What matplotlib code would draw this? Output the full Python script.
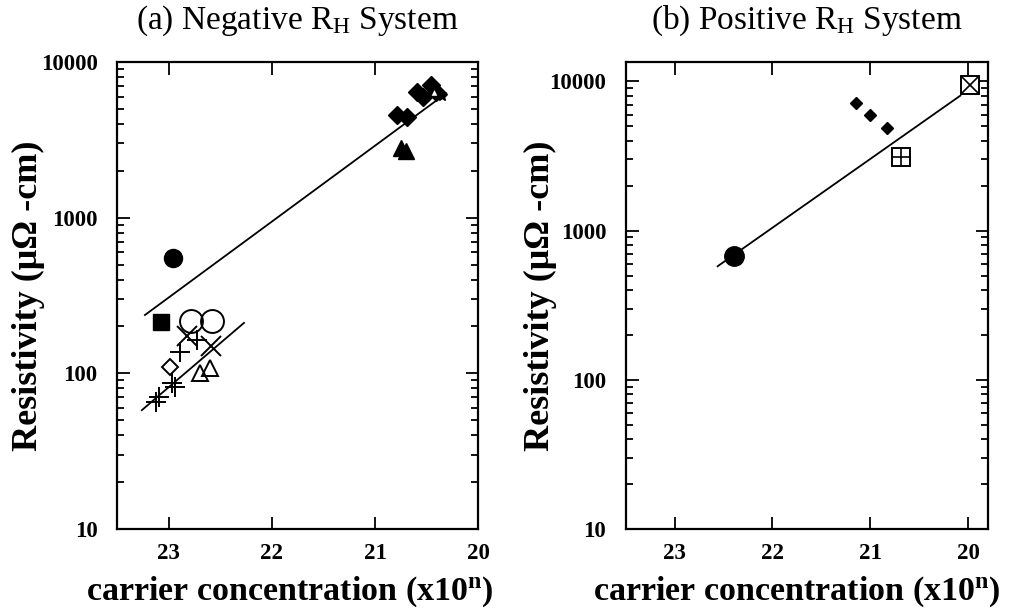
# resistivity vs carrier concentration, negative / positive Hall systems
import matplotlib
matplotlib.use('Agg')
import matplotlib.pyplot as plt
from matplotlib.ticker import FixedLocator, LogLocator, NullFormatter, FuncFormatter

plt.rcParams['font.family'] = ['Liberation Serif', 'DejaVu Serif']
plt.rcParams['mathtext.fontset'] = 'custom'
plt.rcParams['mathtext.rm'] = 'Liberation Serif'
plt.rcParams['mathtext.bf'] = 'Liberation Serif:bold'
plt.rcParams['mathtext.it'] = 'Liberation Serif:italic'

# ---- (a) negative R_H ----
a_dia_x = [20.59, 20.54, 20.46, 20.41, 20.79, 20.69]
a_dia_y = [6440, 5960, 7110, 6440, 4570, 4440]
a_tri_x = [20.75, 20.70]
a_tri_y = [2800, 2700]
a_small_tri_x = [20.43]
a_small_tri_y = [6440]
a_star_x = [20.35]
a_star_y = [6090]
a_fcirc_x = [22.96]
a_fcirc_y = [551]
a_fsq_x = [23.07]
a_fsq_y = [214]
a_ocirc_x = [22.78, 22.58]
a_ocirc_y = [216, 216]
a_odia_x = [22.99]
a_odia_y = [110]
a_cross_x = [22.82, 22.59]
a_cross_y = [174, 150]
a_plus_x = [22.89, 22.73, 23.12, 23.09, 22.97, 22.94]
a_plus_y = [137, 164, 65, 71, 87, 82]
a_otri_x = [22.70, 22.60]
a_otri_y = [100, 108]
a_fit1_x = [23.23, 20.31]
a_fit1_y = [237, 6300]
a_fit2_x = [23.26, 22.27]
a_fit2_y = [58, 211]

# ---- (b) positive R_H ----
b_fcirc_x = [22.39]
b_fcirc_y = [675]
b_dia_x = [21.15, 21.00, 20.83]
b_dia_y = [7210, 5990, 4890]
b_boxx_x = [19.98]
b_boxx_y = [9400]
b_boxp_x = [20.69]
b_boxp_y = [3100]
b_fit_x = [22.56, 20.08]
b_fit_y = [577, 8040]

x_ticks = [23, 22, 21, 20]
y_ticks = [10, 100, 1000, 10000]


def style_axes(ax, xlim, ylim, title, ylab_x, xlab_x):
    ax.set_yscale('log')
    ax.set_xlim(*xlim)
    ax.set_ylim(*ylim)
    ax.xaxis.set_major_locator(FixedLocator(x_ticks))
    ax.yaxis.set_major_locator(FixedLocator(y_ticks))
    ax.yaxis.set_minor_locator(LogLocator(base=10, subs=range(2, 10)))
    ax.yaxis.set_minor_formatter(NullFormatter())
    ax.yaxis.set_major_formatter(FuncFormatter(lambda v, p: '%d' % round(v)))
    ax.tick_params(which='both', direction='in', top=True, right=True, width=1.3)
    ax.tick_params(which='major', length=9)
    ax.tick_params(which='minor', length=5)
    ax.tick_params(axis='y', which='major', pad=14)
    ax.tick_params(axis='x', which='major', pad=10)
    for lab in ax.get_xticklabels() + ax.get_yticklabels():
        lab.set_fontweight('bold')
        lab.set_fontsize(16.5)
    for sp in ax.spines.values():
        sp.set_linewidth(1.6)
    ax.set_xlabel(r'carrier concentration (x10$^{\mathbf{n}}$)', fontsize=24.5,
                  fontweight='bold')
    ax.xaxis.set_label_coords(xlab_x, -0.097)
    ax.set_ylabel('Resistivity (\u03bc\u03a9 -cm)', fontsize=26, fontweight='bold')
    ax.yaxis.set_label_coords(ylab_x, 0.5)
    ax.set_title(title, fontsize=24, pad=24)


fig = plt.figure(figsize=(10.09, 6.14), dpi=100)
ax1 = fig.add_axes([0.116, 0.1384, 0.358, 0.7606])
ax2 = fig.add_axes([0.620, 0.1384, 0.359, 0.7606])

# panel (a)
ax1.plot(a_fit1_x, a_fit1_y, 'k-', lw=1.3)
ax1.plot(a_fit2_x, a_fit2_y, 'k-', lw=1.3)
ax1.plot(a_dia_x, a_dia_y, 'kD', ms=9)
ax1.plot(a_tri_x, a_tri_y, 'k^', ms=11)
ax1.plot(a_small_tri_x, a_small_tri_y, '^', ms=6, mfc='white', mec='k', mew=1)
ax1.plot(a_star_x, a_star_y, 'k*', ms=8)
ax1.plot(a_fcirc_x, a_fcirc_y, 'ko', ms=13)
ax1.plot(a_fsq_x, a_fsq_y, 'ks', ms=11)
ax1.plot(a_ocirc_x, a_ocirc_y, 'o', ms=16.5, mfc='none', mec='k', mew=1.4)
ax1.plot(a_odia_x, a_odia_y, 'D', ms=8.5, mfc='white', mec='k', mew=1.4)
ax1.plot(a_cross_x, a_cross_y, 'kx', ms=14, mew=1.4)
ax1.plot(a_plus_x, a_plus_y, 'k+', ms=14, mew=1.4)
ax1.plot(a_otri_x, a_otri_y, '^', ms=11, mfc='none', mec='k', mew=1.4)
style_axes(ax1, (23.5, 20.0), (10, 10000), r'(a) Negative R$_{\rm H}$ System',
           -0.20, 0.479)

# panel (b)
ax2.plot(b_fit_x, b_fit_y, 'k-', lw=1.3)
ax2.plot(b_fcirc_x, b_fcirc_y, 'ko', ms=14)
ax2.plot(b_dia_x, b_dia_y, 'kD', ms=6.6)
ax2.plot(b_boxx_x, b_boxx_y, 's', ms=13, mfc='white', mec='k', mew=1.4)
ax2.plot(b_boxx_x, b_boxx_y, 'kx', ms=13, mew=1.2)
ax2.plot(b_boxp_x, b_boxp_y, 's', ms=13, mfc='white', mec='k', mew=1.4)
ax2.plot(b_boxp_x, b_boxp_y, 'k+', ms=13, mew=1.2)
style_axes(ax2, (23.5, 19.8), (10, 13500), r'(b) Positive R$_{\rm H}$ System',
           -0.19, 0.472)

fig.savefig('out.png', dpi=100)
plt.close(fig)
